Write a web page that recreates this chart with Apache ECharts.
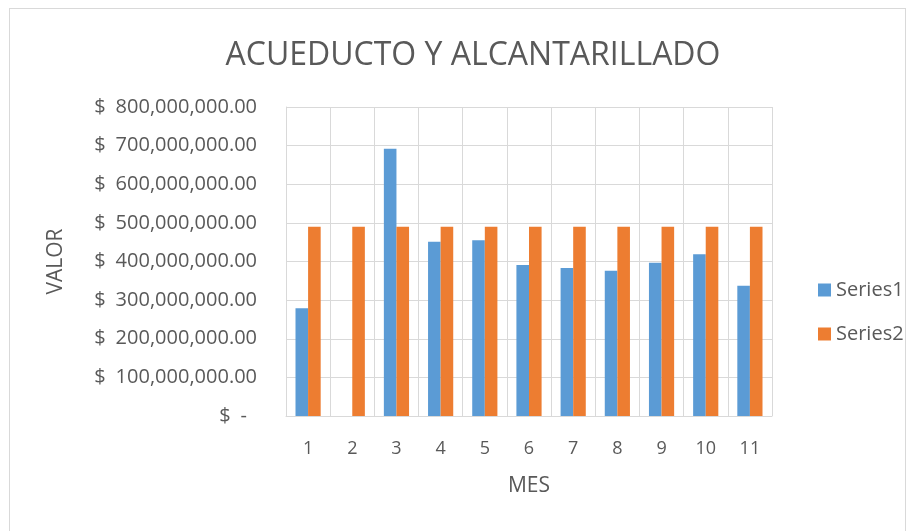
<!DOCTYPE html>
<html>
<head>
<meta charset="utf-8">
<script src="https://cdn.jsdelivr.net/npm/echarts@6/dist/echarts.min.js"></script>
<style>
  html, body { margin: 0; padding: 0; background: #fff; }
  #frame { position: absolute; left: 9px; top: 8px; width: 897px; height: 530px; border: 1px solid #d9d9d9; box-sizing: border-box; }
  #chart { position: absolute; left: 0; top: 0; width: 916px; height: 531px; }
</style>
</head>
<body>
<div id="frame"></div>
<div id="chart"></div>
<script>
// 数据
const months = ['1', '2', '3', '4', '5', '6', '7', '8', '9', '10', '11'];
const series1 = [279000000, 0, 692000000, 451000000, 455000000, 391000000, 383000000, 376000000, 397000000, 419000000, 337000000];
const series2 = [490000000, 490000000, 490000000, 490000000, 490000000, 490000000, 490000000, 490000000, 490000000, 490000000, 490000000];

const FONT = 'Open Sans';
const TXT = '#595959';

// 会计格式
function money(v) {
  if (v === 0) return '$\u2002-\u2002';
  return '$\u2002' + v.toLocaleString('en-US', { minimumFractionDigits: 2, maximumFractionDigits: 2 });
}

const chart = echarts.init(document.getElementById('chart'));
const option = {
  animation: false,
  title: {
    text: 'ACUEDUCTO Y ALCANTARILLADO',
    left: 468, top: 35, textAlign: 'center',
    textStyle: { fontFamily: FONT, fontSize: 32, fontWeight: 'normal', color: TXT }
  },
  legend: {
    orient: 'vertical', left: 813, top: 275, itemGap: 24,
    itemWidth: 13, itemHeight: 13, icon: 'rect',
    textStyle: { fontFamily: FONT, fontSize: 20, color: TXT }
  },
  grid: { left: 286, right: 144, top: 107, bottom: 115, containLabel: false },
  xAxis: {
    type: 'category', data: months,
    name: 'MES', nameLocation: 'middle', nameGap: 60,
    nameTextStyle: { fontFamily: FONT, fontSize: 21, color: TXT },
    axisLine: { lineStyle: { color: '#d9d9d9', width: 1 } },
    axisTick: { show: false },
    axisLabel: { fontFamily: FONT, fontSize: 18, color: TXT, margin: 24 },
    splitLine: { show: true, lineStyle: { color: '#d9d9d9', width: 1 } }
  },
  yAxis: {
    type: 'value', min: 0, max: 800000000, interval: 100000000,
    name: 'VALOR', nameLocation: 'middle', nameGap: 219, nameRotate: 90,
    nameTextStyle: { fontFamily: FONT, fontSize: 21, color: TXT },
    axisLine: { show: true, lineStyle: { color: '#d9d9d9' } },
    axisTick: { show: false },
    axisLabel: { fontFamily: FONT, fontSize: 20, color: TXT, margin: 29, formatter: money },
    splitLine: { show: true, lineStyle: { color: '#d9d9d9', width: 1 } }
  },
  series: [
    { name: 'Series1', type: 'bar', data: series1, barGap: '0%', barCategoryGap: '43%',
      itemStyle: { color: '#5b9bd5' } },
    { name: 'Series2', type: 'bar', data: series2, barGap: '0%', barCategoryGap: '43%',
      itemStyle: { color: '#ed7d31' } }
  ]
};
chart.setOption(option);
</script>
</body>
</html>
